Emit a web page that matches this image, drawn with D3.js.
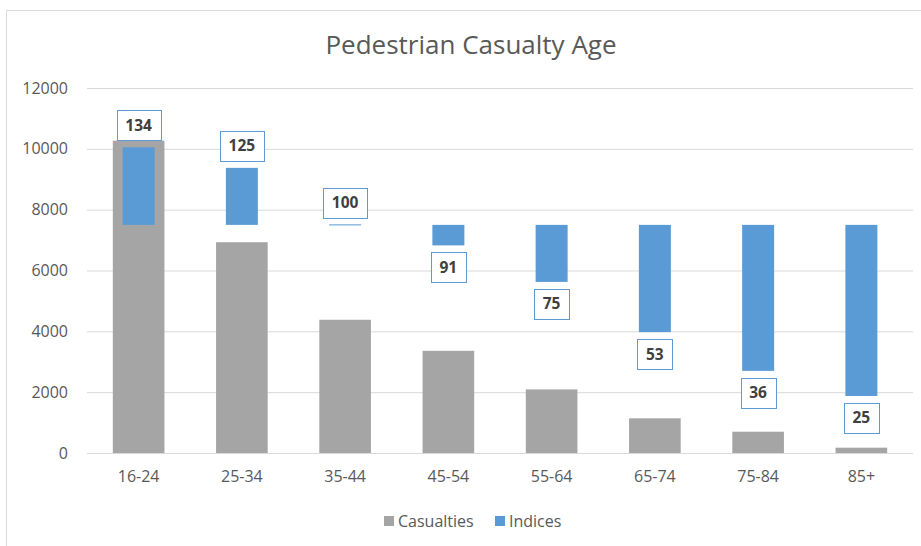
<!DOCTYPE html>
<html>
<head>
<meta charset="utf-8">
<script src="https://cdn.jsdelivr.net/npm/d3@7"></script>
<style>
  body { margin: 0; background: #fff; }
  svg { display: block; font-family: "Open Sans", sans-serif; }
</style>
</head>
<body>
<svg width="921" height="546"></svg>
<script>
const categories = ["16-24", "25-34", "35-44", "45-54", "55-64", "65-74", "75-84", "85+"];
const casualties = [10270, 6930, 4380, 3360, 2090, 1140, 700, 175];
const indices = [134, 125, 100, 91, 75, 53, 36, 25];
const yTicks = [0, 2000, 4000, 6000, 8000, 10000, 12000];
const seriesNames = ["Casualties", "Indices"];

const margin = { top: 88, right: 8, bottom: 93, left: 87 };
const width = 921 - margin.left - margin.right;
const height = 546 - margin.top - margin.bottom;

const grey = "#a5a5a5";
const blue = "#5b9bd5";

let svg = d3.select("svg");

// chart frame (runs off the right and bottom of the picture)
svg.append("rect")
  .attr("x", 6.5).attr("y", 10.5)
  .attr("width", 1000).attr("height", 1000)
  .attr("fill", "none").attr("stroke", "#d9d9d9");

svg.append("text")
  .attr("x", 471).attr("y", 54)
  .attr("text-anchor", "middle")
  .attr("font-size", 26)
  .attr("fill", "#595959")
  .text("Pedestrian Casualty Age");

let g = svg.append("g")
  .attr("transform", "translate(" + margin.left + "," + margin.top + ")");

let x = d3.scaleBand().domain(categories).range([0, width]);
let y = d3.scaleLinear().domain([0, 12000]).range([height, 0]);
// hidden secondary axis for the indices, 100 sits at 7500
let yIdx = d3.scaleLinear().domain([0, 160]).range([height, 0]);

// gridlines
g.append("g")
  .call(d3.axisLeft(y).tickValues(yTicks).tickSize(-width).tickFormat(d => d))
  .call(ax => ax.select(".domain").remove())
  .call(ax => ax.selectAll("line").attr("stroke", "#d9d9d9"))
  .call(ax => ax.selectAll("text")
    .attr("x", -19).attr("fill", "#595959").attr("font-size", 16)
    .attr("font-family", "Open Sans"));

g.append("g")
  .attr("transform", "translate(0," + height + ")")
  .call(d3.axisBottom(x).tickSize(0).tickPadding(18))
  .call(ax => ax.select(".domain").remove())
  .call(ax => ax.selectAll("text")
    .attr("fill", "#595959").attr("font-size", 16)
    .attr("font-family", "Open Sans"));

// casualties
g.selectAll(".cas")
  .data(casualties)
  .enter().append("rect")
  .attr("class", "cas")
  .attr("x", (d, i) => x(categories[i]) + x.bandwidth() * 0.25)
  .attr("width", x.bandwidth() * 0.5)
  .attr("y", d => y(d))
  .attr("height", d => y(0) - y(d))
  .attr("fill", grey);

// indices, floating from 100
const idxW = 32;
g.selectAll(".idx")
  .data(indices)
  .enter().append("rect")
  .attr("class", "idx")
  .attr("x", (d, i) => x(categories[i]) + x.bandwidth() / 2 - idxW / 2)
  .attr("width", idxW)
  .attr("y", d => Math.min(yIdx(d), yIdx(100)) - (d === 100 ? 0.5 : 0))
  .attr("height", d => Math.max(1, Math.abs(yIdx(d) - yIdx(100))))
  .attr("fill", blue);

// data labels
let labels = g.selectAll(".lbl")
  .data(indices)
  .enter().append("g")
  .attr("class", "lbl");

labels.each(function(d, i) {
  let lg = d3.select(this);
  let cx = x(categories[i]) + x.bandwidth() / 2;
  let t = lg.append("text")
    .attr("text-anchor", "middle")
    .attr("font-size", 15.5)
    .attr("font-weight", "bold")
    .attr("fill", "#404040")
    .text(d);
  let tw = t.node().getComputedTextLength();
  let bw = Math.round(tw + 17), bh = 30;
  let top = d >= 100 ? yIdx(d) - 7 - bh : yIdx(d) + 7;
  lg.insert("rect", "text")
    .attr("x", Math.round(cx - bw / 2) + 0.5)
    .attr("y", Math.round(top) + 0.5)
    .attr("width", bw).attr("height", bh)
    .attr("fill", "#fff").attr("stroke", blue);
  t.attr("x", cx).attr("y", top + bh / 2 + 5.5);
});

// legend
let legend = svg.append("g");
const legendX = [384, 495];
seriesNames.forEach((name, i) => {
  legend.append("rect")
    .attr("x", legendX[i]).attr("y", 516)
    .attr("width", 10).attr("height", 10)
    .attr("fill", i === 0 ? grey : blue);
  legend.append("text")
    .attr("x", legendX[i] + 14).attr("y", 527)
    .attr("font-size", 16).attr("fill", "#595959")
    .text(name);
});
</script>
</body>
</html>
